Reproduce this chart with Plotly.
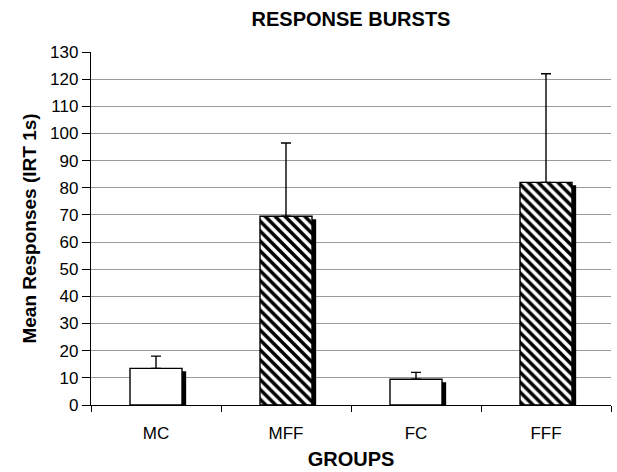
import plotly.graph_objects as go

groups = ["MC", "MFF", "FC", "FFF"]
means = [13.5, 69.5, 9.5, 82]
err_plus = [4.5, 27, 2.5, 40]
hatched = [False, True, False, True]
y_ticks = list(range(0, 131, 10))

BAR_W = 0.4
SHADOW_SHIFT = 0.032
SHADOW_DROP = 1.1

fig = go.Figure()

# shadow bars (drawn behind)
fig.add_trace(go.Bar(
    x=groups, y=[m - SHADOW_DROP for m in means],
    width=BAR_W, offset=-BAR_W / 2 + SHADOW_SHIFT,
    marker=dict(color="black", line=dict(width=0)),
    hoverinfo="skip", showlegend=False,
))

# main bars
fig.add_trace(go.Bar(
    x=groups, y=means, width=BAR_W,
    marker=dict(
        color="white",
        line=dict(color="black", width=1.4),
        pattern=dict(
            shape=["\\" if h else "" for h in hatched],
            fillmode="overlay", bgcolor="white", fgcolor="black", fgopacity=1,
            size=7, solidity=0.5,
        ),
    ),
    error_y=dict(type="data", array=err_plus, arrayminus=[0] * len(means),
                 symmetric=False, color="black", thickness=1.4, width=5),
    showlegend=False,
))

fig.update_layout(
    width=617, height=472,
    margin=dict(l=91, r=6, t=52, b=67),
    paper_bgcolor="white", plot_bgcolor="white",
    barmode="overlay",
    font=dict(family="Liberation Sans, Arial, sans-serif", color="black", size=17),
    title=dict(text="<b>RESPONSE BURSTS</b>", x=(91 + 611) / 2 / 617, xanchor="center",
               y=1 - 19 / 472, yanchor="middle", font=dict(size=20)),
    xaxis=dict(
        title=dict(text="<b>GROUPS</b>", font=dict(size=20), standoff=10),
        showline=True, linecolor="black", linewidth=1.4,
        ticks="outside", tickson="boundaries", ticklen=6, tickcolor="black",
        tickfont=dict(size=17), showgrid=False, ticklabelstandoff=12,
    ),
    yaxis=dict(
        title=dict(text="<b>Mean Responses (IRT 1s)</b>", font=dict(size=19), standoff=8),
        range=[0, 130], tickvals=y_ticks,
        showline=True, linecolor="black", linewidth=1.4,
        ticks="outside", ticklen=8, tickcolor="black",
        showgrid=True, gridcolor="#9a9a9a", gridwidth=1,
        zeroline=False, tickfont=dict(size=17),
    ),
)

fig.write_html("out.html", config={"displayModeBar": False},
               post_script="document.body.style.margin='0px';document.body.style.padding='0px';")
